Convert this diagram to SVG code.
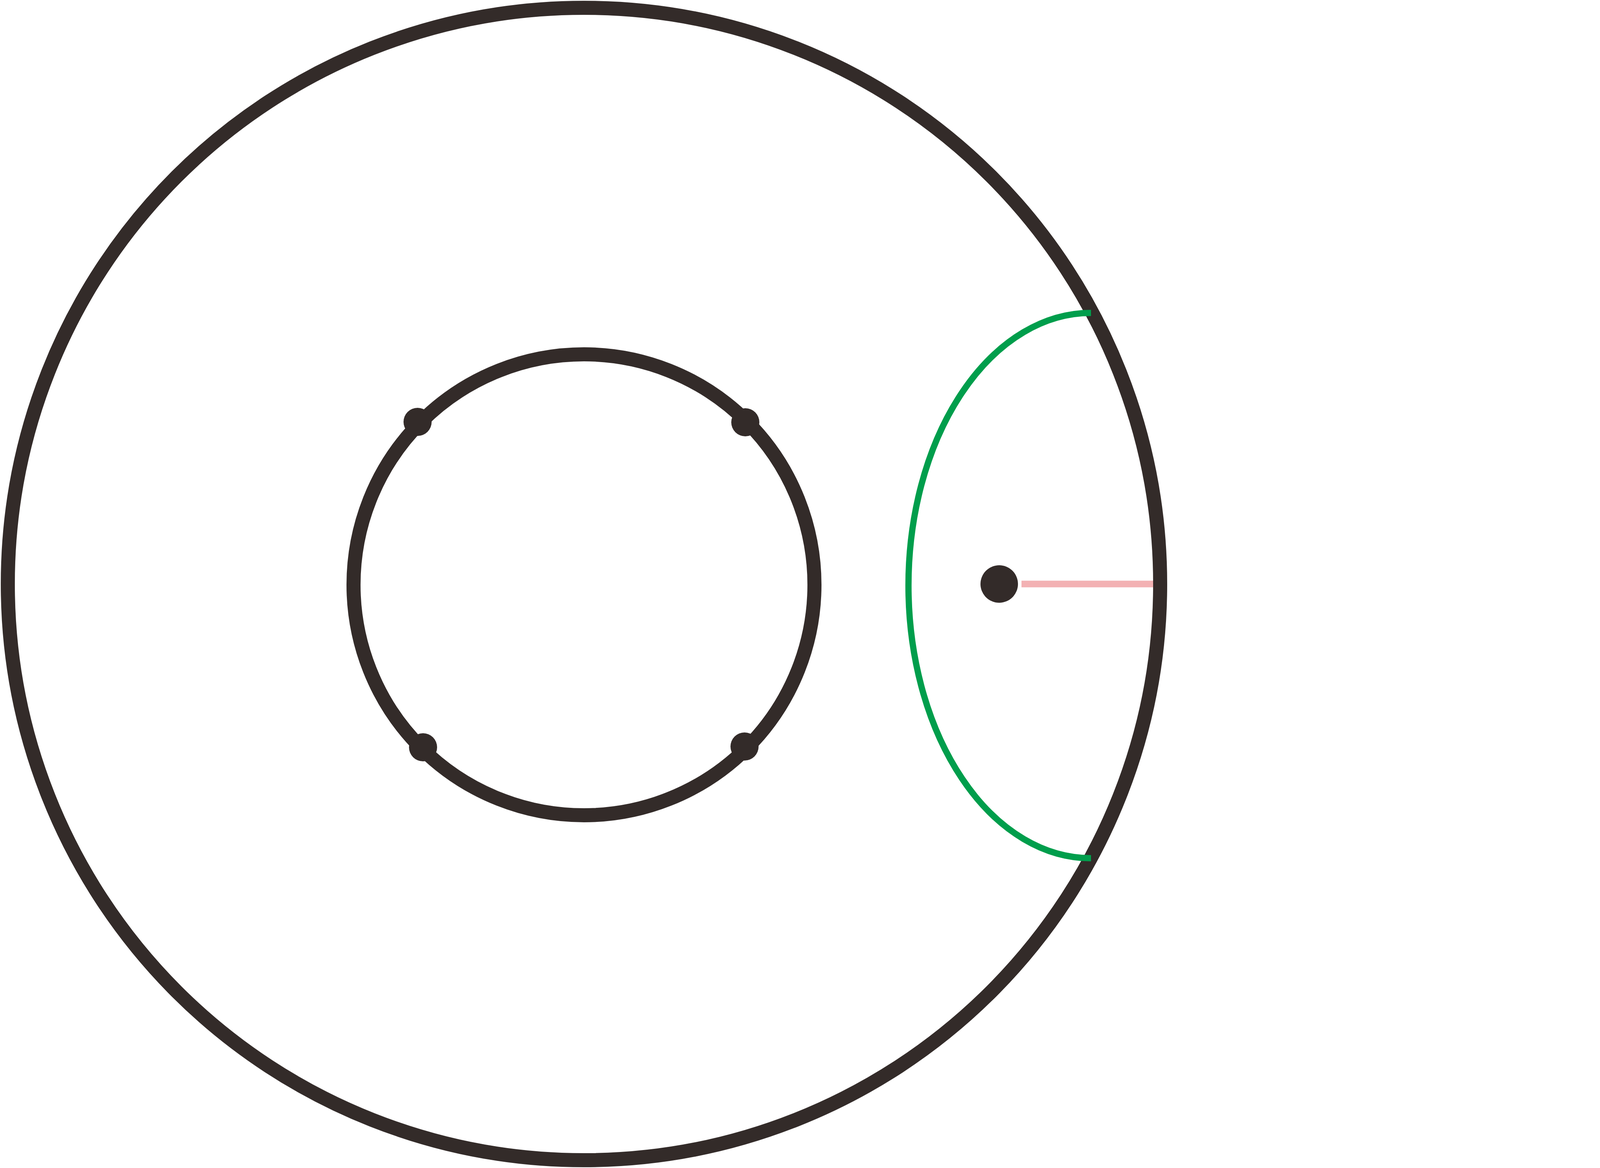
<svg xmlns="http://www.w3.org/2000/svg" width="7218" height="2990" viewBox="0 0 7218 2990">
<style>
.ring{fill:none;stroke:#332b29;stroke-width:36}
.arc{fill:none;stroke:#009e4c;stroke-width:16;stroke-linecap:butt}
.ray{fill:none;stroke:#f3b1b3;stroke-width:17;stroke-linecap:butt}
.dot{fill:#332b29}
</style>
<rect width="7218" height="2990" fill="#ffffff"/>
<g id="connectors">
<line class="ray" x1="2615" y1="1495" x2="2954" y2="1495"/>
<line class="ray" x1="4266" y1="1495" x2="5118" y2="1495"/>
</g>
<g id="left-diagram">
<circle id="left-outer" class="ring" cx="1495" cy="1495" r="1475"/>
<circle id="left-inner" class="ring" cx="1495" cy="1497" r="590"/>
<path id="left-arc" class="arc" d="M2793 801 A466 696 0 0 0 2793 2197"/>
<circle id="left-center-dot" class="dot" cx="2558" cy="1495" r="48"/>
<circle id="left-dot-tl" class="dot" cx="1069" cy="1080" r="36"/>
<circle id="left-dot-tr" class="dot" cx="1908" cy="1081" r="36"/>
<circle id="left-dot-bl" class="dot" cx="1083" cy="1913" r="36"/>
<circle id="left-dot-br" class="dot" cx="1906" cy="1911" r="36"/>
</g>
<g id="right-diagram">
<circle id="right-outer" class="ring" cx="5724" cy="1495" r="1475"/>
<circle id="right-inner" class="ring" cx="5724" cy="1497" r="590"/>
<path id="right-arc" class="arc" d="M7022 801 A466 696 0 0 0 7022 2197"/>
<circle id="right-center-dot" class="dot" cx="6819" cy="1495" r="48"/>
<circle id="right-dot-tl" class="dot" cx="5296" cy="1078" r="36"/>
<circle id="right-dot-tr" class="dot" cx="6145" cy="1078" r="36"/>
<circle id="right-dot-bl" class="dot" cx="5312" cy="1913" r="36"/>
<circle id="right-dot-br" class="dot" cx="6135" cy="1917" r="36"/>
</g>
</svg>
